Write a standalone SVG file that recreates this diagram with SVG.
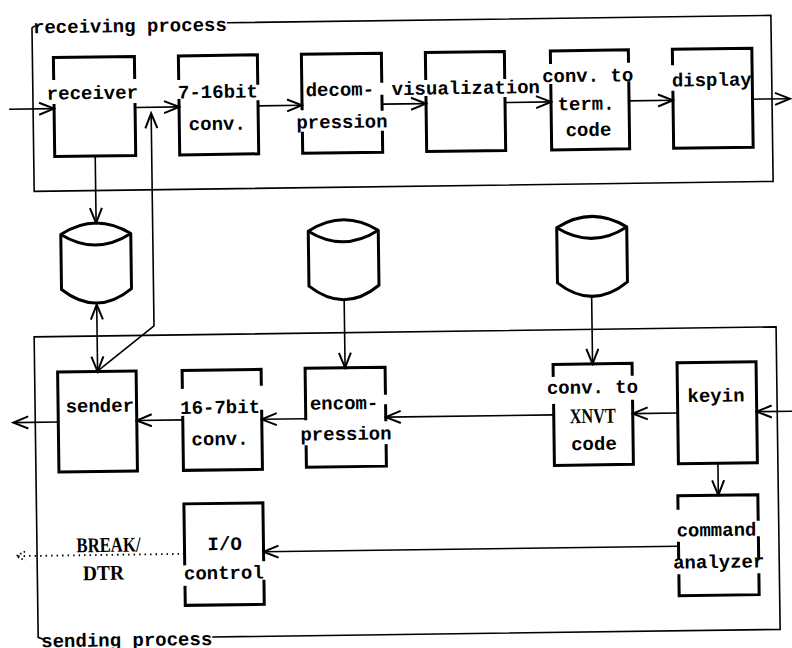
<svg xmlns="http://www.w3.org/2000/svg" width="792" height="648" viewBox="0 0 792 648">
  <style>
    .frame { fill: none; stroke: #000; stroke-width: 1.6; }
    .box { fill: none; stroke: #000; stroke-width: 3; stroke-linejoin: miter; stroke-linecap: square; }
    .cyl { fill: #fff; stroke: #000; stroke-width: 3; stroke-linejoin: round; }
    .ln { fill: none; stroke: #000; stroke-width: 1.6; }
    .dot { fill: none; stroke: #000; stroke-width: 1.8; stroke-dasharray: 1.5 4; }
    .t { font-family: "Liberation Mono", "DejaVu Sans Mono", monospace; font-size: 19px; font-weight: bold; fill: #000; text-anchor: middle; }
    .tl { font-family: "Liberation Mono", "DejaVu Sans Mono", monospace; font-size: 19px; font-weight: bold; fill: #000; }
    .s { font-family: "Liberation Serif", "DejaVu Serif", serif; font-size: 21px; font-weight: bold; fill: #000; text-anchor: middle; }
  </style>
  <defs>
    <marker id="ah" viewBox="-18 -8 20 16" refX="0" refY="0" markerWidth="20" markerHeight="16" markerUnits="userSpaceOnUse" orient="auto-start-reverse">
      <path d="M-15,-6 L0,0 L-15,6" fill="none" stroke="#000" stroke-width="2"/>
    </marker>
  </defs>
  <rect width="792" height="648" fill="#fff"/>
  <g transform="rotate(-0.77 396 324)">
    <!-- process frames -->
    <g id="receiving-process">
      <path class="frame" d="M39,21 L36,23 V186.5 H775 V20.5 H231"/>
      <text class="tl" x="37" y="28.5">receiving process</text>
    </g>
    <g id="sending-process">
      <path class="frame" d="M39,634.5 L34,632.5 V332 H776 V634.5 H208"/>
      <text class="tl" x="37" y="642.5">sending process</text>
    </g>

    <!-- receiving chain -->
    <g id="receiver">
      <path class="box" d="M57,74 V53 H138 V74 M57,101 V152 H138 V101"/>
      <text class="t" x="95.5" y="95">receiver</text>
    </g>
    <g id="conv-7-16">
      <path class="box" d="M182,75.5 V53 H261 V81.5 M182,97.5 V152 H261 V100"/>
      <text class="t" x="221" y="95.5">7-16bit</text>
      <text class="t" x="220" y="127.5">conv.</text>
    </g>
    <g id="decompression">
      <path class="box" d="M305,107.5 V53 H385 V81 M385,96 V109 M305,132 V152 H385 V132"/>
      <text class="t" x="343" y="95">decom-</text>
      <text class="t" x="344.7" y="127.3">pression</text>
    </g>
    <g id="visualization">
      <path class="box" d="M429,79 V53 H508 V79 M429,98 V152 H508 V100"/>
      <text class="t" x="469" y="95">visualization</text>
    </g>
    <g id="conv-term">
      <path class="box" d="M554,64.5 V53 H632 V64.5 M554,87.5 V152 H632 V86"/>
      <text class="t" x="591" y="84.3">conv. to</text>
      <text class="t" x="589" y="112.5">term.</text>
      <text class="t" x="591" y="138.5">code</text>
    </g>
    <g id="display">
      <path class="box" d="M676,67.5 V53 H755.5 V152 H676 V96"/>
      <text class="t" x="715" y="90.3">display</text>
    </g>

    <!-- stores -->
    <g id="store-1">
      <path class="cyl" d="M62,230 Q97,208 132,230 V285 Q97,313 62,285 Z"/>
      <path class="cyl" fill="none" d="M62,230 Q97,252 132,230"/>
    </g>
    <g id="store-2">
      <path class="cyl" d="M309.5,230 Q344.5,208 379.5,230 V285 Q344.5,313 309.5,285 Z"/>
      <path class="cyl" fill="none" d="M309.5,230 Q344.5,252 379.5,230"/>
    </g>
    <g id="store-3">
      <path class="cyl" d="M558,230 Q593,208 628,230 V285 Q593,313 558,285 Z"/>
      <path class="cyl" fill="none" d="M558,230 Q593,252 628,230"/>
    </g>

    <!-- sending chain -->
    <g id="sender">
      <rect class="box" x="57" y="367.5" width="78.5" height="100"/>
      <text class="t" x="98.7" y="408">sender</text>
    </g>
    <g id="conv-16-7">
      <path class="box" d="M181.5,384.5 V367.5 H260.5 V382.5 M181.5,414.5 V467.5 H260.5 V409.5"/>
      <text class="t" x="219" y="411">16-7bit</text>
      <text class="t" x="218.5" y="442.7">conv.</text>
    </g>
    <g id="encompression">
      <path class="box" d="M304.5,417.5 V367 H384.5 V393 M384.5,405.5 V419.5 M304.5,445.5 V466 H384.5 V445.5"/>
      <text class="t" x="343" y="408.6">encom-</text>
      <text class="t" x="344.5" y="439.3">pression</text>
    </g>
    <g id="conv-xnvt">
      <path class="box" d="M552.5,377.5 V366.5 H631.5 V377.5 M552.5,407.5 V467.5 H631.5 V404.5"/>
      <text class="t" x="591.6" y="396">conv. to</text>
      <text class="s" x="591.5" y="425.6" textLength="46" lengthAdjust="spacingAndGlyphs">XNVT</text>
      <text class="t" x="592.3" y="452.6">code</text>
    </g>
    <g id="keyin">
      <rect class="box" x="676.5" y="366.5" width="79" height="101"/>
      <text class="t" x="715" y="406">keyin</text>
    </g>
    <g id="command-analyzer">
      <path class="box" d="M675.5,512 V499.5 H755.5 V524 M675.5,547 V561.5 M755.5,542.5 V562 M675.5,579.5 V599.5 H755.5 V579.5"/>
      <text class="t" x="713.7" y="540.3">command</text>
      <text class="t" x="715.5" y="572.3">analyzer</text>
    </g>
    <g id="io-control">
      <path class="box" d="M181.5,561 V501 H260.5 V558 M181.5,584.5 V602.5 H260.5 V579.5"/>
      <text class="t" x="221.7" y="547.7">I/O</text>
      <text class="t" x="220.5" y="576.7">control</text>
    </g>
    <g id="break-dtr">
      <text class="s" x="105.5" y="548" textLength="64" lengthAdjust="spacingAndGlyphs">BREAK/</text>
      <text class="s" x="100" y="576" textLength="41" lengthAdjust="spacingAndGlyphs">DTR</text>
    </g>

    <!-- connectors -->
    <g id="connectors">
      <path class="ln" d="M12,104 H57" marker-end="url(#ah)"/>
      <path class="ln" d="M138,104 H182" marker-end="url(#ah)"/>
      <path class="ln" d="M261,104 H305" marker-end="url(#ah)"/>
      <path class="ln" d="M385,104 H429" marker-end="url(#ah)"/>
      <path class="ln" d="M508,104 H554" marker-end="url(#ah)"/>
      <path class="ln" d="M632,104 H676" marker-end="url(#ah)"/>
      <path class="ln" d="M755.5,104 H793" marker-end="url(#ah)"/>
      <path class="ln" d="M97.5,152 V219" marker-end="url(#ah)"/>
      <path class="ln" d="M98.5,366 L154,322.5 V110" marker-end="url(#ah)"/>
      <path class="ln" d="M97,300.5 V367.5" marker-start="url(#ah)" marker-end="url(#ah)"/>
      <path class="ln" d="M344.5,300 V367" marker-end="url(#ah)"/>
      <path class="ln" d="M592,300 V366.5" marker-end="url(#ah)"/>
      <path class="ln" d="M796,416.5 H755.5" marker-end="url(#ah)"/>
      <path class="ln" d="M676.5,416.8 H631.5" marker-end="url(#ah)"/>
      <path class="ln" d="M552.5,417 H384.5" marker-end="url(#ah)"/>
      <path class="ln" d="M304.5,417.5 H260.5" marker-end="url(#ah)"/>
      <path class="ln" d="M181.5,417 H135.5" marker-end="url(#ah)"/>
      <path class="ln" d="M57,417.5 H12" marker-end="url(#ah)"/>
      <path class="ln" d="M716,467.5 V499.5" marker-end="url(#ah)"/>
      <path class="ln" d="M675.5,550 H260.5" marker-end="url(#ah)"/>
      <path class="dot" d="M181.5,551 H14"/>
      <path class="dot" style="stroke-dasharray: 1.5 2.5" d="M22,546.5 L13,551 L22,555.5"/>
    </g>
  </g>
</svg>
